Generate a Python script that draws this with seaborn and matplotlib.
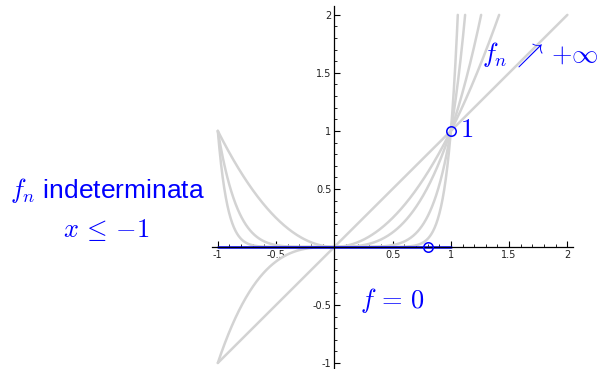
import numpy as np
import pandas as pd
import matplotlib
matplotlib.use("Agg")
import matplotlib.pyplot as plt
from matplotlib.ticker import MultipleLocator, FixedLocator, FixedFormatter
import seaborn as sns

# Family f_n(x) = x^n on [-1, 2], cut off where it leaves the window (y = 2)
exponents = [1, 2, 3, 6, 12]
x_start, x_stop = -1.0, 2.0
y_cap = 2.0

# Pointwise limit f = 0 on (-1, 1)
limit_x = [-1.0, 1.0]
limit_y = [0.0, 0.0]

# Open circles: the value 1 at x = 1 and a sample point on the limit
circle_x = [1.0, 0.8]
circle_y = [1.0, 0.0]

x_ticks = [-1, -0.5, 0.5, 1, 1.5, 2]
x_labels = ["-1", "-0.5", "0.5", "1", "1.5", "2"]
y_ticks = [-1, -0.5, 0.5, 1, 1.5, 2]
y_labels = ["-1", "-0.5", "0.5", "1", "1.5", "2"]

sns.set_style("white")
plt.rcParams["font.family"] = ["DejaVu Sans"]
plt.rcParams["mathtext.fontset"] = "cm"

rows = []
for n in exponents:
    x_end = min(x_stop, y_cap ** (1.0 / n))
    xs = np.linspace(x_start, x_end, 600)
    for xv in xs:
        rows.append({"x": xv, "y": xv ** n, "n": str(n)})
curves = pd.DataFrame(rows)

fig = plt.figure(figsize=(6.02, 3.69), dpi=100)
ax = fig.add_axes([212 / 602, 1.4 / 369, 361.2 / 602, 362.0 / 369])

sns.lineplot(data=curves, x="x", y="y", hue="n", units="n", estimator=None,
             palette=["#d3d3d3"] * len(exponents), linewidth=1.8,
             legend=False, ax=ax, sort=False)

sns.lineplot(x=limit_x, y=limit_y, color="#0000ff", linewidth=1.8, ax=ax)
ax.plot(circle_x, circle_y, linestyle="none", marker="o", markersize=6.8,
        markerfacecolor="none", markeredgecolor="#0000ff", markeredgewidth=1.1,
        zorder=5)

ax.set_xlim(-1.05, 2.05)
ax.set_ylim(-1.04, 2.08)

for side in ["top", "right"]:
    ax.spines[side].set_visible(False)
ax.spines["left"].set_position(("data", 0))
ax.spines["bottom"].set_position(("data", 0))
for side in ["left", "bottom"]:
    ax.spines[side].set_color("black")
    ax.spines[side].set_linewidth(0.9)

ax.xaxis.set_major_locator(FixedLocator(x_ticks))
ax.xaxis.set_major_formatter(FixedFormatter(x_labels))
ax.yaxis.set_major_locator(FixedLocator(y_ticks))
ax.yaxis.set_major_formatter(FixedFormatter(y_labels))
ax.xaxis.set_minor_locator(MultipleLocator(0.1))
ax.yaxis.set_minor_locator(MultipleLocator(0.1))
ax.tick_params(which="major", direction="in", length=4, width=0.8,
               colors="black", labelsize=7, pad=2)
ax.tick_params(which="minor", direction="in", length=2.2, width=0.6,
               colors="black")
ax.tick_params(axis="both", labelcolor="#222222")
ax.tick_params(axis="x", which="both", top=False, bottom=True)
ax.tick_params(axis="y", which="both", right=False, left=True)
ax.set_xlabel("")
ax.set_ylabel("")
ax.patch.set_alpha(0)

blue = "#0000ff"
ax.text(1.08, 1.01, "$1$", color=blue, fontsize=19, ha="left", va="center")
ax.text(1.765, 1.655, r"$f_n\,\nearrow\,{+\infty}$", color=blue, fontsize=19,
        ha="center", va="center", clip_on=False)
ax.text(0.50, -0.46, r"$f\,=\,0$", color=blue, fontsize=19, ha="center",
        va="center")
ax.text(-1.95, 0.49, "$f_n$ indeterminata", color=blue, fontsize=19,
        ha="center", va="center", clip_on=False,
        family=["Liberation Sans", "DejaVu Sans"])
ax.text(-1.96, 0.147, r"$x\,\leq\,{-1}$", color=blue, fontsize=19,
        ha="center", va="center", clip_on=False)

fig.savefig("out.png", dpi=100)
